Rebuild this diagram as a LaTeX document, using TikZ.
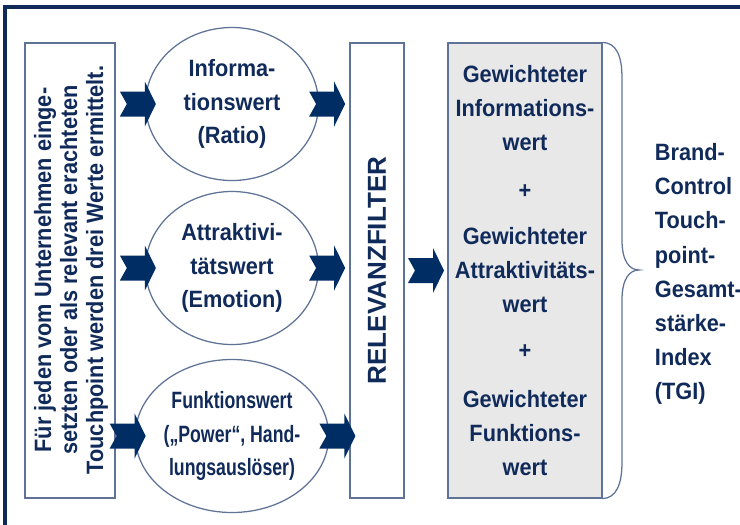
\documentclass[tikz,border=0pt]{standalone}
\usepackage{fontspec}
\setmainfont{Liberation Sans}[FakeStretch=0.92]
\newfontfamily\widefont{Liberation Sans}
\newfontfamily\tightfont{Liberation Sans}[FakeStretch=0.75]
\usepackage{tikz}
\usetikzlibrary{shapes.geometric, calc, positioning}
\definecolor{textnavy}{RGB}{16,42,90}
\definecolor{arrownavy}{RGB}{0,45,100}
\definecolor{framenavy}{RGB}{15,42,88}
\definecolor{edgegray}{RGB}{95,115,150}
\definecolor{sumgray}{RGB}{232,232,233}

\tikzset{
  blockarrow/.pic={
    \fill[arrownavy] (-18,-12.5) -- (7,-12.5) -- (7,-22.5) -- (18,0) -- (7,22.5)
      -- (7,12.5) -- (-18,12.5) -- (-11,0) -- cycle;
  },
  tallbox/.style={draw=edgegray, line width=0.9pt, minimum height=113.75mm, inner sep=0pt},
  valellipse/.style={ellipse, draw=edgegray, line width=0.9pt, minimum width=43.25mm,
    minimum height=38.25mm, inner sep=0pt, text=textnavy, align=center,
    font=\bfseries\fontsize{16.8}{24}\selectfont},
  valtext/.style={text=textnavy, align=center, font=\bfseries\fontsize{16.8}{24}\selectfont},
}

\begin{document}
\begin{tikzpicture}[x=0.25mm, y=-0.25mm]
  \useasboundingbox (0,0) rectangle (740,525);
  \begin{scope}
    \clip (0,0) rectangle (740,525);
    \draw[framenavy, line width=2.2pt] (5,7) rectangle (770,560);
  \end{scope}

  % input box
  \node[tallbox, minimum width=22.5mm] (src) at (70,270.5) {};
  \node[valtext, rotate=90, font=\bfseries\fontsize{16.8}{18.5}\selectfont] (srctext) at (71,270)
    {Für jeden vom Unternehmen einge-\\setzten oder als relevant erachteten\\Touchpoint werden drei Werte ermittelt.};

  % the three values
  \node[valellipse] (info) at (232,104) {Informa-\\tionswert\\(Ratio)};
  \node[valellipse] (attr) at (232,268) {Attraktivi-\\tätswert\\(Emotion)};
  \node[valellipse, font=\tightfont\bfseries\fontsize{16.8}{24}\selectfont] (func) at (232,436)
    {Funktionswert\\(„Power“, Hand-\\lungsauslöser)};

  % filter
  \node[tallbox, minimum width=13.5mm] (filter) at (377,270.5) {};
  \node[valtext, rotate=90, font=\widefont\bfseries\fontsize{18.5}{20}\selectfont] (filtertext) at (filter)
    {RELEVANZFILTER};

  % weighted sum
  \node[tallbox, minimum width=38.5mm, fill=sumgray] (sum) at (525,270.5) {};
  \node[valtext] (gw1) at (525,108) {Gewichteter\\Informations-\\wert};
  \node[valtext] (plus1) at (525,192) {+};
  \node[valtext] (gw2) at (525,270) {Gewichteter\\Attraktivitäts-\\wert};
  \node[valtext] (plus2) at (525,352) {+};
  \node[valtext] (gw3) at (525,433) {Gewichteter\\Funktions-\\wert};

  % arrows
  \foreach \v in {info, attr, func} {
    \pic at ($(\v.west)+(-7,0)$) {blockarrow};
    \pic at ($(\v.east)+(8,0)$) {blockarrow};
  }
  \pic at ($(filter.east)!0.5!(sum.west)$) {blockarrow};

  % brace and result
  \draw[edgegray, line width=0.9pt] (sum.north east) .. controls (616,43) and (622,55) .. (622,78)
    -- (622,240) .. controls (622,262) and (630,270) .. (639,270)
    .. controls (630,270) and (622,278) .. (622,300)
    -- (622,462) .. controls (622,485) and (616,498) .. (sum.south east);
  \node[valtext, align=left, anchor=west, font=\bfseries\fontsize{16.8}{24.3}\selectfont] (tgi) at (650,274)
    {Brand-\\Control\\Touch-\\point-\\Gesamt-\\stärke-\\Index\\(TGI)};
\end{tikzpicture}
\end{document}
